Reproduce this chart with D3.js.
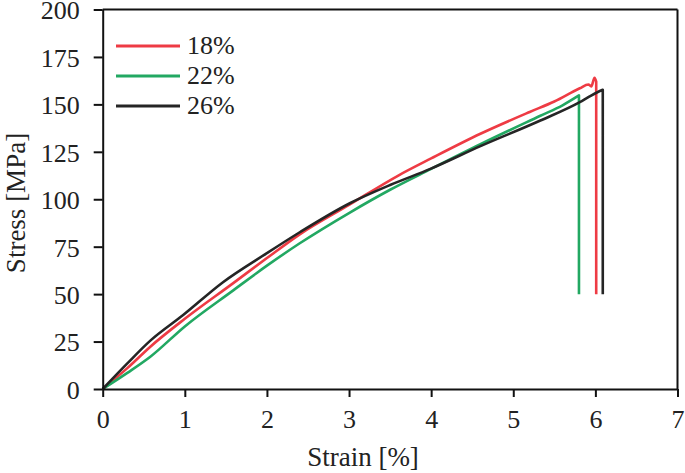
<!DOCTYPE html>
<html>
<head>
<meta charset="utf-8">
<script src="https://cdn.jsdelivr.net/npm/d3@7"></script>
<style>
  html, body { margin: 0; padding: 0; background: #fff; }
  svg { display: block; }
  text { font-family: "Liberation Serif", "DejaVu Serif", serif; fill: #222; }
</style>
</head>
<body>
<svg id="chart" width="685" height="473"></svg>
<script>
// ---- data ----
const seriesNames = ["18%", "22%", "26%"];
const seriesColors = ["#ee3b44", "#22a862", "#252525"];

const strain18 = [0, 0.3, 0.58, 1.0, 1.59, 2.0, 2.4, 3.0, 3.6, 4.0, 4.6, 5.2, 5.5, 5.81, 5.915, 5.95, 5.99, 6.01, 6.01];
const stress18 = [0, 11, 22.3, 37, 55.8, 69, 81.5, 97, 112.5, 121.5, 134.5, 146, 151.5, 158.5, 160.5, 159.5, 164, 162, 50];

const strain22 = [0, 0.3, 0.58, 1.0, 1.59, 2.0, 2.4, 3.01, 3.5, 4.0, 4.6, 5.33, 5.6, 5.8, 5.8];
const stress22 = [0, 8.5, 17, 33, 52, 65, 76.8, 93, 105, 116, 129, 144, 149.5, 154.7, 50];

const strain26 = [0, 0.3, 0.58, 0.98, 1.465, 2.0, 2.4, 3.01, 3.5, 3.99, 4.6, 5.33, 5.81, 5.93, 6.03, 6.09, 6.09];
const stress26 = [0, 13.5, 25.5, 39, 56.3, 71.6, 82.6, 97.9, 107.5, 116, 128, 141.5, 151.2, 154.2, 156.5, 157.7, 50];

const xTicks = [0, 1, 2, 3, 4, 5, 6, 7];
const yTicks = [0, 25, 50, 75, 100, 125, 150, 175, 200];
const xTitle = "Strain [%]";
const yTitle = "Stress [MPa]";

// ---- layout ----
const svg = d3.select("#chart");
const mLeft = 102.7, mTop = 9.5, mRight = 677.5, mBottom = 389;

const x = d3.scaleLinear().domain([0, 7]).range([mLeft, mRight]);
const y = d3.scaleLinear().domain([0, 200]).range([mBottom, mTop]);

const series = [
  { name: seriesNames[0], color: seriesColors[0], xs: strain18, ys: stress18 },
  { name: seriesNames[1], color: seriesColors[1], xs: strain22, ys: stress22 },
  { name: seriesNames[2], color: seriesColors[2], xs: strain26, ys: stress26 }
];

const smooth = d3.line().x(d => x(d[0])).y(d => y(d[1])).curve(d3.curveMonotoneX);
const straight = d3.line().x(d => x(d[0])).y(d => y(d[1]));

// curves: smooth loading part + vertical fracture drop
series.forEach(s => {
  const pts = s.xs.map((v, i) => [v, s.ys[i]]);
  const main = pts.slice(0, pts.length - 1);
  const drop = pts.slice(pts.length - 2);
  const d = smooth(main) + straight(drop).replace(/^M[^L]*/, "");
  svg.append("path")
    .attr("d", d)
    .attr("fill", "none")
    .attr("stroke", s.color)
    .attr("stroke-width", 2.6)
    .attr("stroke-linejoin", "round");
});

// frame (top and right)
svg.append("line").attr("x1", mLeft).attr("x2", mRight).attr("y1", mTop).attr("y2", mTop)
  .attr("stroke", "#111").attr("stroke-width", 2);
svg.append("line").attr("x1", mRight).attr("x2", mRight).attr("y1", mTop).attr("y2", mBottom)
  .attr("stroke", "#111").attr("stroke-width", 2);

// axes
const xAxis = d3.axisBottom(x).tickValues(xTicks).tickFormat(d3.format("d")).tickSizeOuter(0).tickSizeInner(8).tickPadding(13);
const yAxis = d3.axisLeft(y).tickValues(yTicks).tickFormat(d3.format("d")).tickSizeOuter(0).tickSizeInner(9).tickPadding(14);

const gx = svg.append("g").attr("transform", `translate(0,${mBottom})`).call(xAxis);
const gy = svg.append("g").attr("transform", `translate(${mLeft},0)`).call(yAxis);

[gx, gy].forEach(g => {
  g.select(".domain").attr("stroke", "#111").attr("stroke-width", 2);
  g.selectAll(".tick line").attr("stroke", "#111").attr("stroke-width", 2);
  g.selectAll(".tick text").style("font-family", "'Liberation Serif', serif").style("font-size", "26px").attr("fill", "#222");
});
gy.selectAll(".tick text").attr("dy", "0.36em");

// axis titles
svg.append("text")
  .attr("x", 363).attr("y", 466)
  .attr("text-anchor", "middle")
  .style("font-size", "27px")
  .text(xTitle);

svg.append("text")
  .attr("transform", "translate(25,203) rotate(-90)")
  .attr("text-anchor", "middle")
  .style("font-size", "27px")
  .text(yTitle);

// legend
const legendY = [46, 76, 106];
series.forEach((s, i) => {
  svg.append("line")
    .attr("x1", 116).attr("x2", 180)
    .attr("y1", legendY[i]).attr("y2", legendY[i])
    .attr("stroke", s.color).attr("stroke-width", 3);
  svg.append("text")
    .attr("x", 187).attr("y", legendY[i] + 8)
    .style("font-size", "26px")
    .text(s.name);
});
</script>
</body>
</html>
